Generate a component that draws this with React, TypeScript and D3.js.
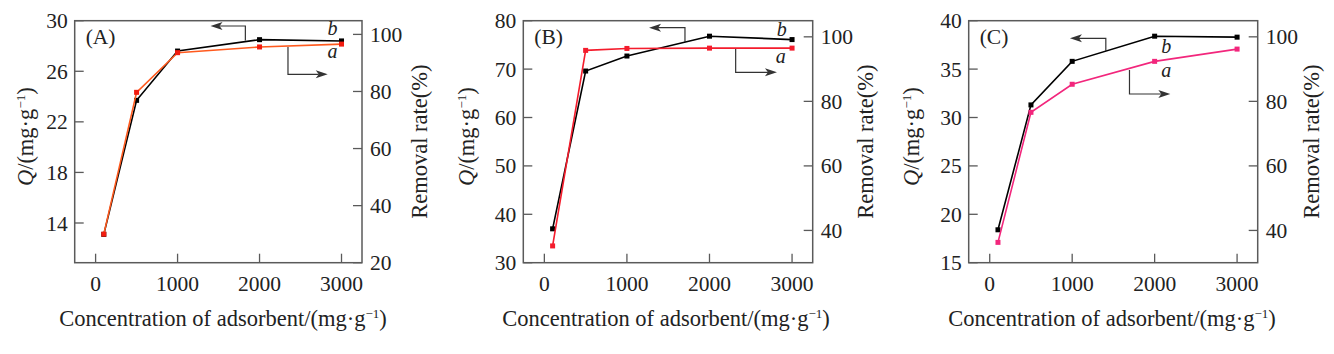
import React from "react";
import * as d3 from "d3";

// ---------- data ----------
const concentrations = [100, 500, 1000, 2000, 3000];

const qA = [13.1, 23.7, 27.6, 28.5, 28.4];
const removalA = [30.0, 79.7, 93.6, 95.6, 96.6];

const qB = [37.0, 69.6, 72.7, 76.8, 76.1];
const removalB = [35.2, 95.8, 96.4, 96.5, 96.5];

const qC = [18.4, 31.3, 35.8, 38.4, 38.3];
const removalC = [36.3, 76.6, 85.3, 92.4, 96.2];

const xTicks = [0, 1000, 2000, 3000];
const qTicksA = [14, 18, 22, 26, 30];
const qTicksB = [30, 40, 50, 60, 70, 80];
const qTicksC = [15, 20, 25, 30, 35, 40];
const rateTicksA = [20, 40, 60, 80, 100];
const rateTicksB = [40, 60, 80, 100];
const rateTicksC = [40, 60, 80, 100];

const panelLabels = ["(A)", "(B)", "(C)"];

// ---------- layout ----------
const W = 1334;
const H = 354;
const TOP = 20.7;
const BOTTOM = 262.7;
const FONT = "'Liberation Serif', 'Times New Roman', serif";

type Ann = {
  left: { x: number; y0: number; y1: number; tip: number };
  right: { x: number; y0: number; y1: number; tip: number };
  b: { x: number; y: number };
  a: { x: number; y: number };
};

const panels = [
  {
    left: 74.7, right: 362, q: qA, rate: removalA,
    qDomain: [10.86, 30], rateDomain: [20, 104.8],
    qTicks: qTicksA, rateTicks: rateTicksA,
    lineColor: "#ff5a1e", markColor: "#f21c10",
    leftTitleX: 33, rightTitleX: 427, bottomTitleX: 223,
    ann: {
      left: { x: 1827, y0: 28.43, y1: 29.58, tip: 1402 },
      right: { x: 2347, y0: 27.92, y1: 25.76, tip: 2832 },
      b: { x: 2891, y: 28.87 },
      a: { x: 2891, y: 27.05 },
    } as Ann,
  },
  {
    left: 523.3, right: 812.7, q: qB, rate: removalB,
    qDomain: [30, 80], rateDomain: [30, 105],
    qTicks: qTicksB, rateTicks: rateTicksB,
    lineColor: "#f41c2c", markColor: "#f41c2c",
    leftTitleX: 474, rightTitleX: 873, bottomTitleX: 666,
    ann: {
      left: { x: 1703, y0: 75.66, y1: 78.55, tip: 1268 },
      right: { x: 2317, y0: 74.36, y1: 69.34, tip: 2817 },
      b: { x: 2875, y: 76.84 },
      a: { x: 2862, y: 71.26 },
    } as Ann,
  },
  {
    left: 968.7, right: 1257.7, q: qC, rate: removalC,
    qDomain: [15, 40], rateDomain: [30, 105],
    qTicks: qTicksC, rateTicks: rateTicksC,
    lineColor: "#f2267c", markColor: "#f2267c",
    leftTitleX: 919, rightTitleX: 1319, bottomTitleX: 1112,
    ann: {
      left: { x: 1408, y0: 36.9, y1: 38.18, tip: 973 },
      right: { x: 1695, y0: 34.9, y1: 32.43, tip: 2190 },
      b: { x: 2141, y: 36.66 },
      a: { x: 2141, y: 34.19 },
    } as Ann,
  },
];

function Panel({ p, label }: { p: (typeof panels)[number]; label: string }) {
  const x = d3.scaleLinear().domain([-255, 3250]).range([p.left, p.right]);
  const yQ = d3.scaleLinear().domain(p.qDomain).range([BOTTOM, TOP]);
  const yR = d3.scaleLinear().domain(p.rateDomain).range([BOTTOM, TOP]);

  const qPts = concentrations.map((c, i) => [x(c), yQ(p.q[i])] as [number, number]);
  const rPts = concentrations.map((c, i) => [x(c), yR(p.rate[i])] as [number, number]);
  const line = d3.line();

  const ann = p.ann;
  const aL = ann.left;
  const aR = ann.right;
  const arrowLeft = (tx: number, ty: number) =>
    `M${tx},${ty} L${tx + 12},${ty - 4} L${tx + 9},${ty} L${tx + 12},${ty + 4} Z`;
  const arrowRight = (tx: number, ty: number) =>
    `M${tx},${ty} L${tx - 12},${ty - 4} L${tx - 9},${ty} L${tx - 12},${ty + 4} Z`;

  const tickLen = 9;
  const frameColor = "#5a5a5a";
  const midY = (TOP + BOTTOM) / 2;

  return (
    <g fontFamily={FONT}>
      {/* ticks */}
      {xTicks.map((t) => (
        <g key={"x" + t}>
          <line x1={x(t)} x2={x(t)} y1={BOTTOM} y2={BOTTOM - tickLen} stroke={frameColor} strokeWidth={1.3} />
          <text x={x(t)} y={291} fontSize={21.5} textAnchor="middle" fill="#222">{t}</text>
        </g>
      ))}
      {p.qTicks.map((t) => (
        <g key={"q" + t}>
          <line x1={p.left} x2={p.left + tickLen} y1={yQ(t)} y2={yQ(t)} stroke={frameColor} strokeWidth={1.3} />
          <text x={p.left - 7} y={yQ(t)} dy="0.35em" fontSize={21.5} textAnchor="end" fill="#222">{t}</text>
        </g>
      ))}
      {p.rateTicks.map((t) => (
        <g key={"r" + t}>
          <line x1={p.right} x2={p.right - tickLen} y1={yR(t)} y2={yR(t)} stroke={frameColor} strokeWidth={1.3} />
          <text x={p.right + 8} y={yR(t)} dy="0.35em" fontSize={21.5} textAnchor="start" fill="#222">{t}</text>
        </g>
      ))}

      {/* frame */}
      <rect x={p.left} y={TOP} width={p.right - p.left} height={BOTTOM - TOP} fill="none" stroke={frameColor} strokeWidth={1.5} />

      {/* annotation arrows */}
      <path d={`M${x(aL.x)},${yQ(aL.y0)} L${x(aL.x)},${yQ(aL.y1)} L${x(aL.tip) + 9},${yQ(aL.y1)}`} fill="none" stroke="#333" strokeWidth={1.2} />
      <path d={arrowLeft(x(aL.tip), yQ(aL.y1))} fill="#333" />
      <path d={`M${x(aR.x)},${yQ(aR.y0)} L${x(aR.x)},${yQ(aR.y1)} L${x(aR.tip) - 9},${yQ(aR.y1)}`} fill="none" stroke="#333" strokeWidth={1.2} />
      <path d={arrowRight(x(aR.tip), yQ(aR.y1))} fill="#333" />
      <text x={x(ann.b.x)} y={yQ(ann.b.y)} fontSize={20} fontStyle="italic" textAnchor="middle" fill="#222">b</text>
      <text x={x(ann.a.x)} y={yQ(ann.a.y)} fontSize={20} fontStyle="italic" textAnchor="middle" fill="#222">a</text>

      {/* series b : Q */}
      <path d={line(qPts) ?? ""} fill="none" stroke="#000" strokeWidth={1.6} />
      {qPts.map(([px, py], i) => (
        <rect key={"qb" + i} x={px - 2.5} y={py - 2.5} width={5} height={5} fill="#000" />
      ))}
      {/* series a : removal rate */}
      <path d={line(rPts) ?? ""} fill="none" stroke={p.lineColor} strokeWidth={1.6} />
      {rPts.map(([px, py], i) => (
        <rect key={"ra" + i} x={px - 2.5} y={py - 2.5} width={5} height={5} fill={p.markColor} />
      ))}

      {/* panel label */}
      <text x={p.left + 11} y={44} fontSize={21.5} fill="#222">{label}</text>

      {/* axis titles */}
      <text x={p.bottomTitleX} y={326} fontSize={22.5} textAnchor="middle" fill="#222">
        Concentration of adsorbent/(mg·g
        <tspan dy={-8} fontSize={13}>−1</tspan>
        <tspan dy={8}>)</tspan>
      </text>
      <text transform={`translate(${p.leftTitleX},${midY - 5}) rotate(-90)`} fontSize={22.5} textAnchor="middle" fill="#222">
        <tspan fontStyle="italic">Q</tspan>/(mg·g
        <tspan dy={-8} fontSize={13}>−1</tspan>
        <tspan dy={8}>)</tspan>
      </text>
      <text transform={`translate(${p.rightTitleX},${midY}) rotate(-90)`} fontSize={22.5} textAnchor="middle" fill="#222">
        Removal rate(%)
      </text>
    </g>
  );
}

export default function App() {
  return (
    <svg width={W} height={H} style={{ position: "absolute", left: 0, top: 0, background: "#fff" }}>
      <rect width={W} height={H} fill="#fff" />
      {panels.map((p, i) => (
        <Panel key={i} p={p} label={panelLabels[i]} />
      ))}
    </svg>
  );
}
